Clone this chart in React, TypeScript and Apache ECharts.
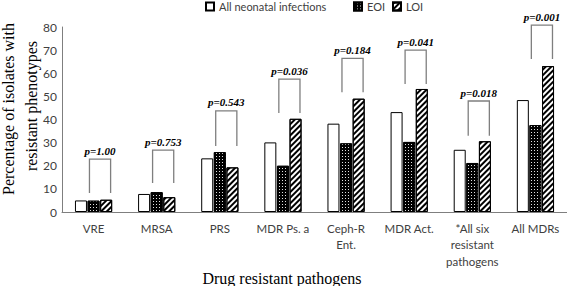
import React, { useEffect, useRef } from "react";
import * as echarts from "echarts";

const categories = ["VRE", "MRSA", "PRS", "MDR Ps. a", "Ceph-R\nEnt.", "MDR Act.", "*All six\nresistant\npathogens", "All MDRs"];
const allNeonatal = [5, 7.8, 23.2, 30.1, 38.2, 43.2, 26.9, 48.4];
const eoi = [4.9, 8.6, 25.9, 20, 29.7, 30.3, 21.2, 37.6];
const loi = [5.3, 6.4, 19.3, 40.3, 49, 53.2, 30.6, 63.1];
const bracketTop = [22.9, 26.8, 43.7, 57.5, 66.4, 70, 48, 80.8];
const bracketLeg = [8.2, 12.5, 28.5, 42.8, 51.8, 55.4, 33, 66.2];
const pLabels = ["p=1.00", "p=0.753", "p=0.543", "p=0.036", "p=0.184", "p=0.041", "p=0.018", "p=0.001"];
const yTicks = { min: 0, max: 80, interval: 10 };
const xTitle = "Drug resistant pathogens";
const yTitleLines = ["Percentage of isolates with", "resistant phenotypes"];

const SANS = "Lato, 'Liberation Sans', sans-serif";
const SERIF = "'Liberation Serif', 'Times New Roman', serif";

export default function App() {
  const ref = useRef<HTMLDivElement>(null);
  useEffect(() => {
    if (!ref.current) return;
    const chart = echarts.init(ref.current, undefined, { renderer: "svg" });
    const legendText = { color: "#404040", fontSize: 11, fontFamily: SANS };
    const legendBase = { top: 1, padding: 0, icon: "rect", itemWidth: 8, itemHeight: 8, itemGap: 5, textStyle: legendText };
    const titleStyle = { fill: "#000", fontSize: 16, fontFamily: SERIF, textAlign: "center", textVerticalAlign: "middle" };
    chart.setOption({
      animation: false,
      backgroundColor: "#fff",
      textStyle: { fontFamily: SANS },
      legend: [
        { ...legendBase, left: 205, data: ["All neonatal infections"] },
        { ...legendBase, left: 353, data: ["EOI"] },
        { ...legendBase, left: 392, data: ["LOI"] },
      ],
      grid: { left: 62, right: 0, top: 27, bottom: 74, outerBoundsMode: "none", containLabel: false },
      graphic: [
        { type: "text", x: 282, y: 278, style: { ...titleStyle, text: xTitle } },
        { type: "text", x: 8, y: 109, rotation: Math.PI / 2, style: { ...titleStyle, text: yTitleLines[0] } },
        { type: "text", x: 31, y: 106, rotation: Math.PI / 2, style: { ...titleStyle, text: yTitleLines[1] } },
      ],
      xAxis: {
        type: "category",
        data: categories,
        axisLine: { lineStyle: { color: "#7f7f7f", width: 1 } },
        axisTick: { show: false },
        axisLabel: { color: "#404040", fontSize: 11.5, fontFamily: SANS, lineHeight: 16.5, margin: 8, interval: 0 },
      },
      yAxis: {
        type: "value",
        min: yTicks.min,
        max: yTicks.max,
        interval: yTicks.interval,
        axisLine: { show: true, lineStyle: { color: "#7f7f7f", width: 1 } },
        axisTick: { show: false },
        splitLine: { show: false },
        axisLabel: { color: "#404040", fontSize: 12, fontFamily: SANS, margin: 5 },
      },
      series: [
        {
          name: "All neonatal infections",
          type: "bar",
          data: allNeonatal,
          barWidth: 12,
          barGap: "5%",
          itemStyle: { color: "#fff", borderColor: "#000", borderWidth: 1 },
        },
        {
          name: "EOI",
          type: "bar",
          data: eoi,
          barWidth: 12,
          barGap: "5%",
          itemStyle: {
            color: "#000",
            borderColor: "#000",
            borderWidth: 1,
            decal: { symbol: "rect", symbolSize: 1, color: "#e0e0e0", dashArrayX: [1, 2], dashArrayY: [1, 2], rotation: 0 },
          },
        },
        {
          name: "LOI",
          type: "bar",
          data: loi,
          barWidth: 12,
          barGap: "5%",
          itemStyle: {
            color: "#fff",
            borderColor: "#000",
            borderWidth: 1,
            decal: { symbol: "rect", symbolSize: 1, color: "#000", dashArrayX: [1, 0], dashArrayY: [2, 2], rotation: -Math.PI / 4 },
          },
        },
        {
          name: "brackets",
          type: "custom",
          coordinateSystem: "cartesian2d",
          data: categories.map((_, i) => [i, bracketTop[i], bracketLeg[i]]),
          encode: { x: 0, y: 1 },
          clip: false,
          z: 5,
          renderItem: (params: any, api: any) => {
            const i = api.value(0);
            const top = api.coord([i, api.value(1)]);
            const leg = api.coord([i, api.value(2)]);
            const band = api.size([1, 0])[0];
            const xl = top[0] - band * 0.065;
            const xr = top[0] + band * 0.27;
            return {
              type: "group",
              children: [
                {
                  type: "polyline",
                  shape: { points: [[xl, leg[1]], [xl, top[1]], [xr, top[1]], [xr, leg[1]]] },
                  style: { stroke: "#7f7f7f", lineWidth: 1.3, fill: null },
                },
                {
                  type: "text",
                  x: (xl + xr) / 2,
                  y: top[1] - 3,
                  style: {
                    text: pLabels[params.dataIndex],
                    textAlign: "center",
                    textVerticalAlign: "bottom",
                    fontStyle: "italic",
                    fontWeight: "bold",
                    fontSize: 11,
                    fontFamily: SERIF,
                    fill: "#000",
                  },
                },
              ],
            };
          },
        },
      ],
    });
    return () => chart.dispose();
  }, []);
  return <div ref={ref} style={{ width: 567, height: 286, position: "fixed", left: 0, top: 0 }} />;
}
